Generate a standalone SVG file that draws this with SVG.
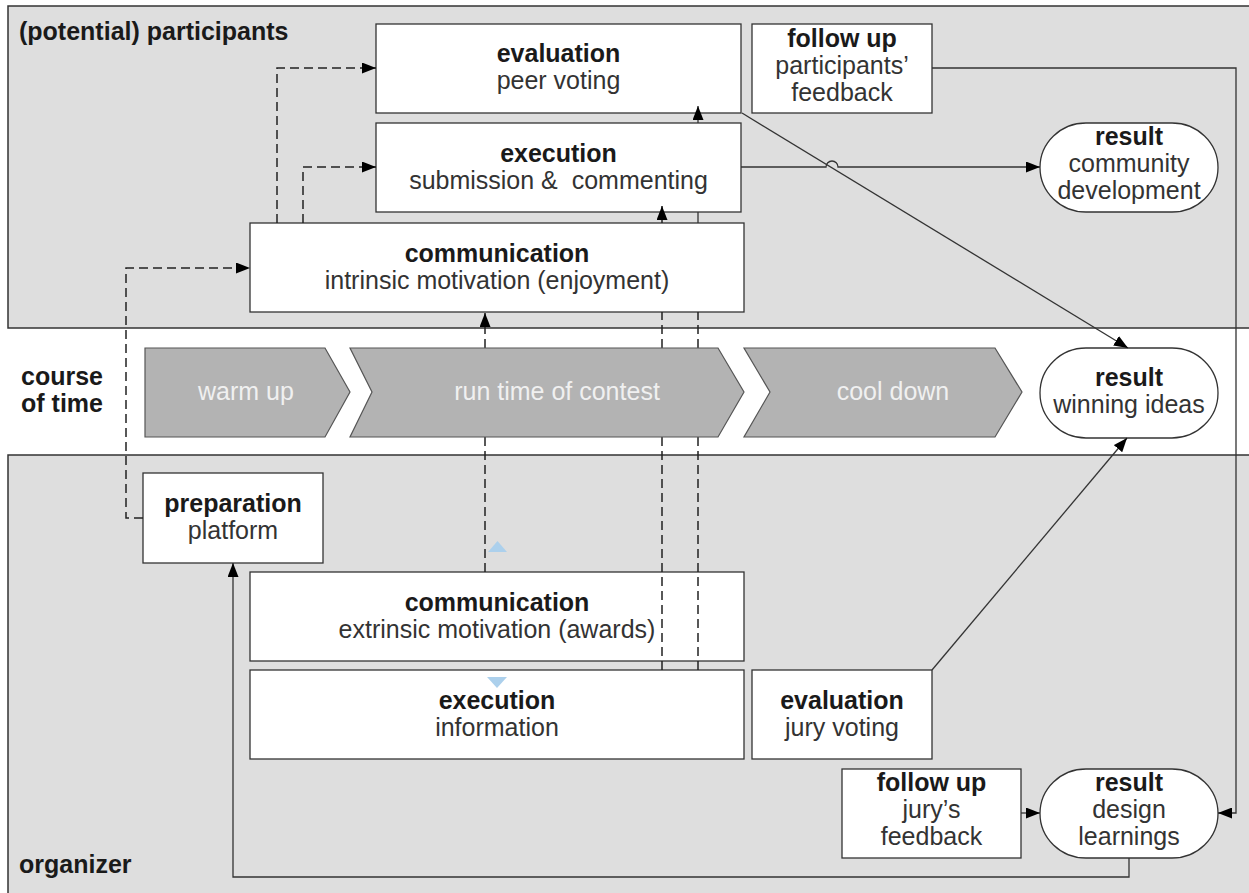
<svg xmlns="http://www.w3.org/2000/svg" width="1249" height="893" viewBox="0 0 1249 893">
<style>
text{font-family:"Liberation Sans",Arial,sans-serif;font-size:25px;text-anchor:middle}
.b{font-weight:bold;fill:#1a1a1a}
.r{fill:#333}
.lane{fill:#dedede;stroke:#333;stroke-width:1.5}
.box{fill:#fff;stroke:#333;stroke-width:1.3}
.chev{fill:#b3b3b3;stroke:#555;stroke-width:1.2}
.ct{fill:#f0f0f0}
.lbl{font-weight:bold;fill:#1a1a1a;text-anchor:start}
.c{fill:none;stroke:#333;stroke-width:1.3}
.d{fill:none;stroke:#222;stroke-width:1.5;stroke-dasharray:9,5}
.tri{fill:#acd0ec}
</style>
<defs>
<marker id="ah" viewBox="0 0 14 11" refX="14" refY="5.5" markerWidth="14" markerHeight="11" markerUnits="userSpaceOnUse" orient="auto">
<path d="M0,0 L14,5.5 L0,11 Z" fill="#000"/>
</marker>
</defs>
<rect width="1249" height="893" fill="#fff"/>
<g id="lanes">
<rect class="lane" x="8" y="6" width="1260" height="322"/>
<rect class="lane" x="8" y="455" width="1260" height="460"/>
<text class="lbl" x="19" y="40">(potential) participants</text>
<text class="b" x="62" y="385">course</text>
<text class="b" x="62" y="412">of time</text>
<text class="lbl" x="19" y="873">organizer</text>
</g>
<g id="eval-peer">
<rect class="box" x="376" y="24" width="365" height="89"/>
<text class="b" x="558.5" y="62">evaluation</text>
<text class="r" x="558.5" y="89">peer voting</text>
</g>
<g id="followup-participants">
<rect class="box" x="752" y="24" width="180" height="89"/>
<text class="b" x="842" y="47">follow up</text>
<text class="r" x="842" y="74">participants’</text>
<text class="r" x="842" y="101">feedback</text>
</g>
<g id="exec-submission">
<rect class="box" x="376" y="123" width="365" height="89"/>
<text class="b" x="558.5" y="162">execution</text>
<text class="r" x="558.5" y="189" xml:space="preserve">submission &amp;  commenting</text>
</g>
<g id="comm-intrinsic">
<rect class="box" x="250" y="223" width="494" height="89"/>
<text class="b" x="497" y="262">communication</text>
<text class="r" x="497" y="289">intrinsic motivation (enjoyment)</text>
</g>
<g id="result-community">
<rect class="box" x="1040" y="123" width="178" height="89" rx="46" ry="44.5"/>
<text class="b" x="1129" y="145">result</text>
<text class="r" x="1129" y="172">community</text>
<text class="r" x="1129" y="199">development</text>
</g>
<g id="result-winning">
<rect class="box" x="1040" y="348" width="178" height="90" rx="46" ry="45"/>
<text class="b" x="1129" y="386">result</text>
<text class="r" x="1129" y="413">winning ideas</text>
</g>
<g id="prep-platform">
<rect class="box" x="143" y="473" width="180" height="90"/>
<text class="b" x="233" y="512">preparation</text>
<text class="r" x="233" y="539">platform</text>
</g>
<g id="comm-extrinsic">
<rect class="box" x="250" y="572" width="494" height="89"/>
<text class="b" x="497" y="611">communication</text>
<text class="r" x="497" y="638">extrinsic motivation (awards)</text>
</g>
<g id="exec-information">
<rect class="box" x="250" y="670" width="494" height="89"/>
<text class="b" x="497" y="709">execution</text>
<text class="r" x="497" y="736">information</text>
</g>
<g id="eval-jury">
<rect class="box" x="752" y="670" width="180" height="89"/>
<text class="b" x="842" y="709">evaluation</text>
<text class="r" x="842" y="736">jury voting</text>
</g>
<g id="followup-jury">
<rect class="box" x="842" y="769" width="179" height="89"/>
<text class="b" x="931.5" y="791">follow up</text>
<text class="r" x="931.5" y="818">jury’s</text>
<text class="r" x="931.5" y="845">feedback</text>
</g>
<g id="result-design">
<rect class="box" x="1040" y="769" width="178" height="89" rx="46" ry="44.5"/>
<text class="b" x="1129" y="791">result</text>
<text class="r" x="1129" y="818">design</text>
<text class="r" x="1129" y="845">learnings</text>
</g>
<g id="connectors">
<path class="d" d="M277,223 V68 H376" marker-end="url(#ah)"/>
<path class="d" d="M303,223 V167 H376" marker-end="url(#ah)"/>
<path class="d" d="M143,518 H126 V268 H250" marker-end="url(#ah)"/>
<path class="d" d="M485,572 V313" marker-end="url(#ah)"/>
<path class="d" d="M662,670 V312"/>
<path class="d" d="M662,223 V206" marker-end="url(#ah)"/>
<path class="d" d="M698,670 V312"/>
<path class="c" d="M698,223 V212"/>
<path class="c" d="M698,123 V106" marker-end="url(#ah)"/>
<path class="c" d="M741,167 H826 A6,6 0 0 1 838,167 H1040" marker-end="url(#ah)"/>
<path class="c" d="M742,113 L1128,348" marker-end="url(#ah)"/>
<path class="c" d="M932,670 L1127,438" marker-end="url(#ah)"/>
<path class="c" d="M932,68 H1236 V813 H1218" marker-end="url(#ah)"/>
<path class="c" d="M1021,813 H1040" marker-end="url(#ah)"/>
<path class="c" d="M1129,858 V877 H233 V563" marker-end="url(#ah)"/>
<polygon class="tri" points="488,552 507,552 497.5,541"/>
<polygon class="tri" points="487,677 507,677 497,688"/>
</g>
<g id="phases">
<polygon class="chev" points="145,348 325,348 350,392 325,437 145,437"/>
<text class="ct" x="246" y="400">warm up</text>
<polygon class="chev" points="350,348 718,348 744,392 718,437 350,437 372,392"/>
<text class="ct" x="557" y="400">run time of contest</text>
<polygon class="chev" points="744,348 995,348 1022,392 995,437 744,437 770,392"/>
<text class="ct" x="893" y="400">cool down</text>
</g>
</svg>
